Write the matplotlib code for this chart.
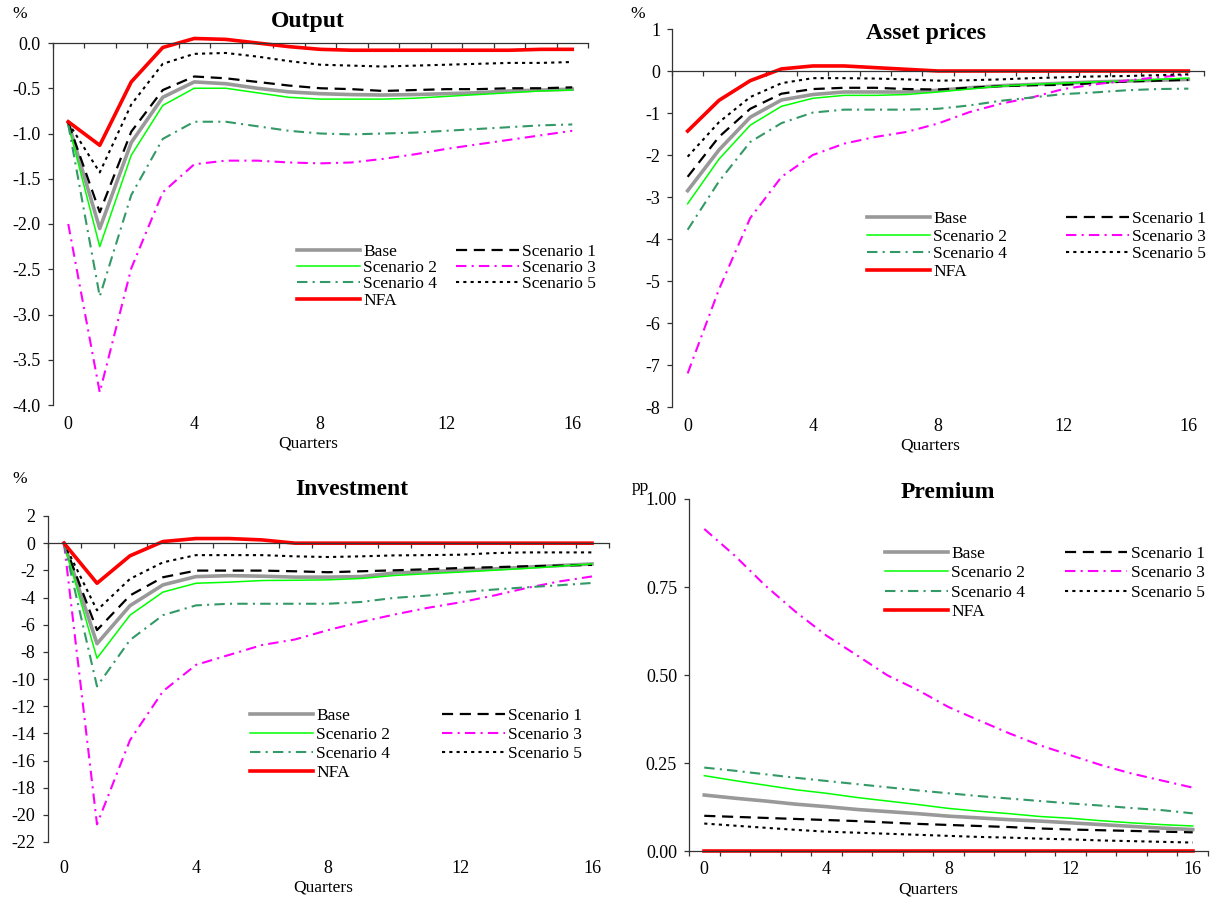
import matplotlib.pyplot as plt
from matplotlib.ticker import MultipleLocator, FormatStrFormatter

plt.rcParams['font.family'] = ['Liberation Serif', 'DejaVu Serif']
plt.rcParams['axes.unicode_minus'] = False

quarters = list(range(17))
names = ['Base', 'Scenario 1', 'Scenario 2', 'Scenario 3', 'Scenario 4', 'Scenario 5', 'NFA']

# Output, %
out_base = [-0.88, -2.05, -1.10, -0.60, -0.43, -0.45, -0.50, -0.54, -0.56, -0.57, -0.575, -0.57, -0.56, -0.55, -0.53, -0.52, -0.51]
out_s1 = [-0.88, -1.87, -0.98, -0.52, -0.37, -0.39, -0.43, -0.47, -0.50, -0.51, -0.53, -0.52, -0.51, -0.51, -0.50, -0.50, -0.49]
out_s2 = [-0.90, -2.25, -1.24, -0.69, -0.50, -0.50, -0.55, -0.60, -0.62, -0.62, -0.62, -0.61, -0.59, -0.57, -0.55, -0.53, -0.52]
out_s3 = [-2.00, -3.86, -2.49, -1.65, -1.34, -1.30, -1.30, -1.32, -1.33, -1.32, -1.28, -1.23, -1.17, -1.12, -1.07, -1.02, -0.97]
out_s4 = [-0.90, -2.80, -1.68, -1.06, -0.87, -0.87, -0.92, -0.97, -1.00, -1.01, -1.00, -0.99, -0.97, -0.95, -0.93, -0.91, -0.90]
out_s5 = [-0.88, -1.43, -0.68, -0.23, -0.12, -0.11, -0.15, -0.20, -0.24, -0.25, -0.26, -0.25, -0.24, -0.23, -0.22, -0.22, -0.21]
out_nfa = [-0.87, -1.13, -0.43, -0.05, 0.05, 0.04, 0.00, -0.04, -0.07, -0.08, -0.08, -0.08, -0.08, -0.08, -0.08, -0.07, -0.07]

# Asset prices, %
ast_base = [-2.85, -1.88, -1.10, -0.69, -0.56, -0.50, -0.50, -0.50, -0.46, -0.40, -0.35, -0.32, -0.29, -0.26, -0.24, -0.22, -0.20]
ast_s1 = [-2.52, -1.57, -0.90, -0.54, -0.43, -0.40, -0.40, -0.43, -0.44, -0.40, -0.36, -0.34, -0.33, -0.29, -0.25, -0.23, -0.21]
ast_s2 = [-3.16, -2.10, -1.29, -0.84, -0.65, -0.58, -0.58, -0.56, -0.50, -0.43, -0.36, -0.32, -0.29, -0.26, -0.24, -0.20, -0.17]
ast_s3 = [-7.20, -5.20, -3.50, -2.52, -2.00, -1.73, -1.57, -1.45, -1.25, -0.98, -0.78, -0.63, -0.43, -0.32, -0.23, -0.15, -0.09]
ast_s4 = [-3.78, -2.63, -1.69, -1.24, -0.99, -0.92, -0.92, -0.92, -0.90, -0.82, -0.71, -0.63, -0.55, -0.51, -0.46, -0.43, -0.42]
ast_s5 = [-2.04, -1.22, -0.62, -0.29, -0.17, -0.17, -0.18, -0.20, -0.23, -0.22, -0.20, -0.17, -0.15, -0.13, -0.12, -0.10, -0.08]
ast_nfa = [-1.43, -0.70, -0.23, 0.05, 0.12, 0.12, 0.08, 0.04, 0.00, 0.00, 0.00, 0.00, 0.00, 0.00, 0.00, 0.00, 0.00]

# Investment, %
inv_base = [0.0, -7.4, -4.6, -3.07, -2.46, -2.39, -2.43, -2.50, -2.50, -2.46, -2.20, -2.10, -2.00, -1.90, -1.77, -1.65, -1.53]
inv_s1 = [0.0, -6.4, -3.85, -2.51, -2.02, -2.02, -2.02, -2.07, -2.14, -2.07, -2.00, -1.92, -1.83, -1.77, -1.70, -1.65, -1.60]
inv_s2 = [0.0, -8.47, -5.3, -3.60, -2.95, -2.87, -2.75, -2.73, -2.70, -2.60, -2.38, -2.25, -2.13, -2.00, -1.86, -1.70, -1.53]
inv_s3 = [0.0, -20.7, -14.5, -10.9, -8.96, -8.23, -7.50, -7.09, -6.40, -5.80, -5.26, -4.77, -4.36, -3.87, -3.31, -2.82, -2.45]
inv_s4 = [0.0, -10.54, -7.13, -5.30, -4.58, -4.46, -4.46, -4.46, -4.46, -4.33, -4.03, -3.86, -3.62, -3.42, -3.25, -3.10, -2.93]
inv_s5 = [0.0, -4.94, -2.63, -1.41, -0.88, -0.88, -0.88, -0.97, -1.02, -0.97, -0.90, -0.88, -0.85, -0.73, -0.68, -0.68, -0.68]
inv_nfa = [0.0, -2.95, -0.93, 0.12, 0.34, 0.34, 0.24, 0.0, 0.0, 0.0, 0.0, 0.0, 0.0, 0.0, 0.0, 0.0, 0.0]

# Premium, pp
prm_base = [0.159, 0.150, 0.142, 0.133, 0.126, 0.118, 0.112, 0.106, 0.099, 0.094, 0.089, 0.085, 0.080, 0.075, 0.070, 0.065, 0.061]
prm_s1 = [0.100, 0.097, 0.094, 0.091, 0.088, 0.085, 0.081, 0.077, 0.074, 0.071, 0.068, 0.064, 0.061, 0.059, 0.057, 0.055, 0.053]
prm_s2 = [0.214, 0.200, 0.187, 0.174, 0.164, 0.152, 0.142, 0.132, 0.121, 0.113, 0.106, 0.098, 0.093, 0.086, 0.080, 0.075, 0.071]
prm_s3 = [0.915, 0.839, 0.754, 0.679, 0.612, 0.556, 0.499, 0.457, 0.409, 0.371, 0.334, 0.300, 0.272, 0.244, 0.220, 0.200, 0.180]
prm_s4 = [0.237, 0.228, 0.218, 0.208, 0.199, 0.190, 0.181, 0.172, 0.164, 0.156, 0.149, 0.142, 0.135, 0.129, 0.122, 0.116, 0.107]
prm_s5 = [0.078, 0.072, 0.066, 0.060, 0.055, 0.052, 0.049, 0.046, 0.043, 0.040, 0.038, 0.035, 0.033, 0.030, 0.028, 0.026, 0.024]
prm_nfa = [0.0] * 17

styles = {
    'Base': dict(color='#999999', lw=2.6, ls='-'),
    'Scenario 1': dict(color='black', lw=1.6, ls=(0, (5, 3))),
    'Scenario 2': dict(color='#00ff00', lw=1.1, ls='-'),
    'Scenario 3': dict(color='#ff00ff', lw=1.5, ls=(0, (5, 2.5, 1, 2.5))),
    'Scenario 4': dict(color='#339966', lw=1.5, ls=(0, (5, 2.5, 1, 2.5))),
    'Scenario 5': dict(color='black', lw=1.5, ls=(0, (1.5, 2))),
    'NFA': dict(color='#ff0000', lw=2.6, ls='-'),
}

W, H = 1213, 901
fig = plt.figure(figsize=(W / 100, H / 100), dpi=100)


def fx(px):
    return px / W


def fy(py):
    return 1 - py / H


def panel(box, data, ylim, ystep, fmt, unit, unit_xy, title, title_xy, qxy,
          leg_xy, colsp, labsp, xpad):
    l, t, r, b = box
    ax = fig.add_axes([fx(l), fy(b), fx(r) - fx(l), fy(t) - fy(b)])
    lines = {}
    for name, vals in zip(names, data):
        lines[name], = ax.plot(quarters, vals, label=name, clip_on=False, **styles[name])
    ax.set_xlim(-0.5, 16.5)
    ax.set_ylim(*ylim)
    ax.yaxis.set_major_locator(MultipleLocator(ystep))
    ax.yaxis.set_major_formatter(FormatStrFormatter(fmt))
    ax.xaxis.set_major_locator(MultipleLocator(4))
    ax.xaxis.set_minor_locator(MultipleLocator(1, offset=0.5))
    for s in ('right', 'bottom'):
        ax.spines[s].set_visible(False)
    ax.spines['top'].set_position(('data', 0))
    for s in ('top', 'left'):
        ax.spines[s].set_color('#333333')
        ax.spines[s].set_linewidth(0.9)
    ax.tick_params(axis='x', which='major', top=False, bottom=True, length=0,
                   labelsize=13, pad=xpad)
    ax.tick_params(axis='x', which='minor', top=True, bottom=False, direction='in',
                   length=3.6, width=0.9, color='#333333')
    ax.tick_params(axis='y', which='major', direction='out', length=3.6, width=0.9,
                   color='#333333', labelsize=13, pad=5)
    ax.patch.set_alpha(0)
    # legend columns: Base / Scenario 2 / Scenario 4 / NFA, then Scenario 1 / 3 / 5
    order = ['Base', 'Scenario 2', 'Scenario 4', 'NFA', 'Scenario 1', 'Scenario 3', 'Scenario 5']
    ax.legend([lines[n] for n in order], order, ncol=2, loc='upper left',
              bbox_to_anchor=(fx(leg_xy[0]), fy(leg_xy[1])), bbox_transform=fig.transFigure,
              frameon=False, fontsize=12.5, handlelength=3.6, handletextpad=0.2,
              columnspacing=colsp, labelspacing=labsp, borderpad=0, borderaxespad=0)
    fig.text(fx(unit_xy[0]), fy(unit_xy[1]), unit, ha='center', va='center', fontsize=12.5)
    fig.text(fx(title_xy[0]), fy(title_xy[1]), title, ha='center', va='center',
             fontsize=17, fontweight='bold')
    fig.text(fx(qxy[0]), fy(qxy[1]), 'Quarters', ha='center', va='center', fontsize=12.5)
    return ax


panel((52.5, 43, 588, 405), [out_base, out_s1, out_s2, out_s3, out_s4, out_s5, out_nfa],
      (-4.0, 0.0), 0.5, '%.1f', '%', (20, 14), 'Output', (308, 22), (308, 444),
      (297, 244), 1.1, 0.0, 8)
panel((672, 29, 1204, 407), [ast_base, ast_s1, ast_s2, ast_s3, ast_s4, ast_s5, ast_nfa],
      (-8, 1), 1, '%d', '%', (638, 14), 'Asset prices', (926, 33), (930, 446),
      (867, 211), 3.4, 0.08, 8)
panel((47.5, 516, 608.5, 842), [inv_base, inv_s1, inv_s2, inv_s3, inv_s4, inv_s5, inv_nfa],
      (-22, 2), 2, '%d', '%', (20, 479), 'Investment', (352, 490), (323, 888),
      (250, 708), 3.0, 0.16, 13)
panel((689, 499, 1208, 851), [prm_base, prm_s1, prm_s2, prm_s3, prm_s4, prm_s5, prm_nfa],
      (0.0, 1.0), 0.25, '%.2f', 'pp', (640, 487), 'Premium', (948, 492), (928, 889),
      (885, 546), 2.3, 0.18, 7)

fig.savefig('out.png', dpi=100)
